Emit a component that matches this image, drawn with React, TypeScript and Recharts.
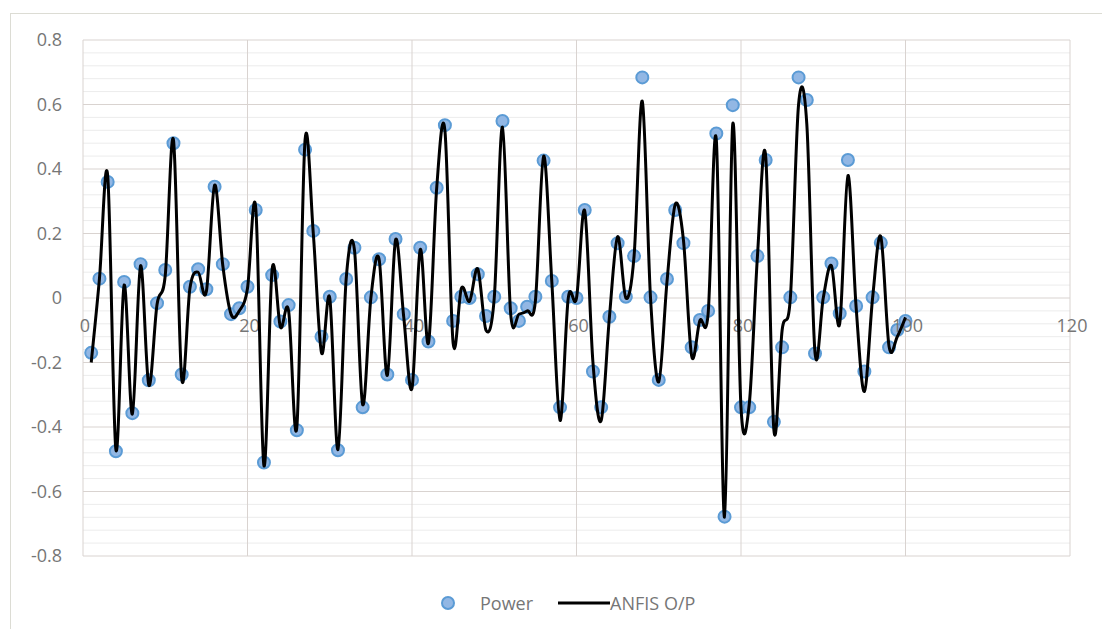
import React from "react";
import { CartesianGrid, ComposedChart, Line, XAxis, YAxis } from "recharts";

const samples = Array.from({ length: 100 }, (_, i) => i + 1);

const power = [
  -0.17, 0.06, 0.36, -0.475, 0.05, -0.357, 0.105, -0.255, -0.016, 0.087,
  0.48, -0.237, 0.035, 0.089, 0.027, 0.345, 0.105, -0.05, -0.032, 0.035,
  0.273, -0.51, 0.071, -0.073, -0.022, -0.41, 0.46, 0.208, -0.12, 0.004,
  -0.472, 0.059, 0.156, -0.339, 0.002, 0.12, -0.237, 0.183, -0.05, -0.254,
  0.156, -0.135, 0.342, 0.536, -0.071, 0.004, 0.0, 0.074, -0.056, 0.004,
  0.549, -0.032, -0.071, -0.027, 0.004, 0.426, 0.053, -0.339, 0.004, 0.0,
  0.273, -0.228, -0.339, -0.058, 0.17, 0.004, 0.13, 0.684, 0.002, -0.254,
  0.059, 0.273, 0.17, -0.153, -0.068, -0.04, 0.51, -0.678, 0.598, -0.339,
  -0.339, 0.13, 0.428, -0.384, -0.153, 0.002, 0.684, 0.614, -0.172, 0.002,
  0.107, -0.048, 0.428, -0.025, -0.228, 0.002, 0.171, -0.153, -0.099, -0.071,
];

const anfis = [
  -0.2, 0.06, 0.38, -0.47, 0.04, -0.36, 0.1, -0.27, -0.02, 0.07,
  0.49, -0.25, 0.03, 0.08, 0.02, 0.35, 0.1, -0.05, -0.04, 0.03,
  0.28, -0.52, 0.09, -0.09, -0.04, -0.4, 0.49, 0.2, -0.17, 0.0,
  -0.47, 0.06, 0.15, -0.33, 0.0, 0.12, -0.24, 0.18, -0.06, -0.28,
  0.15, -0.14, 0.34, 0.52, -0.14, 0.03, -0.01, 0.09, -0.1, 0.0,
  0.53, -0.05, -0.05, -0.04, -0.01, 0.44, 0.05, -0.38, 0.0, 0.0,
  0.27, -0.2, -0.38, -0.06, 0.19, 0.0, 0.13, 0.61, 0.0, -0.26,
  0.05, 0.29, 0.18, -0.18, -0.07, -0.05, 0.49, -0.68, 0.54, -0.34,
  -0.33, 0.13, 0.44, -0.41, -0.1, 0.0, 0.6, 0.54, -0.17, 0.0,
  0.1, -0.08, 0.38, -0.03, -0.29, 0.0, 0.19, -0.15, -0.12, -0.06,
];

const xTicks = [0, 20, 40, 60, 80, 100, 120];
const yTicks = [-0.8, -0.6, -0.4, -0.2, 0, 0.2, 0.4, 0.6, 0.8];
const yMinorTicks = [
  -0.76, -0.72, -0.68, -0.64, -0.56, -0.52, -0.48, -0.44, -0.36, -0.32, -0.28, -0.24,
  -0.16, -0.12, -0.08, -0.04, 0.04, 0.08, 0.12, 0.16, 0.24, 0.28, 0.32, 0.36,
  0.44, 0.48, 0.52, 0.56, 0.64, 0.68, 0.72, 0.76,
];

const data = samples.map((x, i) => ({ x, power: power[i], anfis: anfis[i] }));

const W = 1102;
const H = 629;
const margin = { top: 40, right: 32, bottom: 72, left: 23 };
const plotH = H - margin.top - margin.bottom - 1;
const zeroY = margin.top + plotH / 2;

const font = "'Open Sans', sans-serif";
const labelColour = "#767676";

// Excel style smoothed line (catmull-rom through every point)
const excelSmooth = (context: any) => {
  let pts: [number, number][] = [];
  return {
    areaStart() {},
    areaEnd() {},
    lineStart() {
      pts = [];
    },
    point(x: number, y: number) {
      pts.push([+x, +y]);
    },
    lineEnd() {
      if (!pts.length) return;
      context.moveTo(pts[0][0], pts[0][1]);
      for (let i = 0; i < pts.length - 1; i++) {
        const p0 = pts[i - 1] || pts[i];
        const p1 = pts[i];
        const p2 = pts[i + 1];
        const p3 = pts[i + 2] || p2;
        context.bezierCurveTo(
          p1[0] + (p2[0] - p0[0]) / 6, p1[1] + (p2[1] - p0[1]) / 6,
          p2[0] - (p3[0] - p1[0]) / 6, p2[1] - (p3[1] - p1[1]) / 6,
          p2[0], p2[1]
        );
      }
    },
  };
};

const XTick = ({ x, payload }: any) => (
  <text x={x + 2} y={zeroY + 29} textAnchor="middle" dominantBaseline="middle"
    fontFamily={font} fontSize={18} fill={labelColour}>
    {payload.value}
  </text>
);

const Marker = ({ cx, cy, index }: any) => (
  <circle key={index} cx={cx} cy={cy} r={6} fill="#92b7e4" stroke="#5b9bd5" strokeWidth={2} />
);

// both charts share the same frame so the line layer sits exactly over the markers
const Frame = ({ children, labels }: { children: React.ReactNode; labels: boolean }) => (
  <ComposedChart width={W} height={H} data={data} margin={margin} style={{ position: "absolute", left: 0, top: 0 }}>
    {children}
    <XAxis type="number" dataKey="x" domain={[0, 120]} ticks={xTicks} height={1}
      axisLine={false} tickLine={false} tick={labels ? <XTick /> : false} interval={0} />
    <YAxis type="number" domain={[-0.8, 0.8]} ticks={yTicks} width={60} axisLine={false} tickLine={false}
      tickSize={0} tickMargin={21} interval={0}
      tick={labels ? { fontFamily: font, fontSize: 18, fill: labelColour } : false} />
  </ComposedChart>
);

export default function App() {
  return (
    <div style={{ position: "fixed", left: 0, top: 0, width: W, height: H, background: "#fff", overflow: "hidden" }}>
      <div style={{ position: "absolute", left: 10, top: 13, width: W, height: H, border: "1px solid #dcdcd4", boxSizing: "border-box" }} />
      <Frame labels>
        <CartesianGrid horizontalValues={yMinorTicks} vertical={false} stroke="#ececec" strokeWidth={1} />
        <CartesianGrid horizontalValues={yTicks} verticalValues={xTicks} stroke="#d9d3d0" strokeWidth={1} />
        <Line name="Power" dataKey="power" stroke="none" strokeWidth={0} dot={<Marker />} activeDot={false}
          isAnimationActive={false} />
      </Frame>
      <Frame labels={false}>
        <Line name="ANFIS O/P" dataKey="anfis" type={excelSmooth as any} stroke="#000" strokeWidth={3}
          dot={false} activeDot={false} isAnimationActive={false} />
      </Frame>
      <div style={{ position: "absolute", left: 441, top: 592, display: "flex", alignItems: "center",
        fontFamily: font, fontSize: 18, color: labelColour, height: 22 }}>
        <svg width={14} height={14}><circle cx={7} cy={7} r={6} fill="#92b7e4" stroke="#5b9bd5" strokeWidth={2} /></svg>
        <span style={{ marginLeft: 25 }}>Power</span>
        <svg width={52} height={4} style={{ marginLeft: 25 }}><line x1={0} y1={2} x2={52} y2={2} stroke="#000" strokeWidth={3} /></svg>
        <span>ANFIS O/P</span>
      </div>
    </div>
  );
}
